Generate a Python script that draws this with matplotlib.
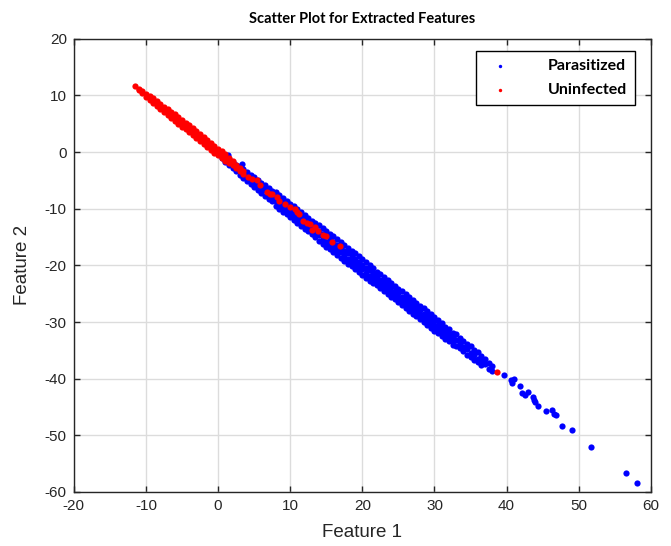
import matplotlib
matplotlib.use("Agg")
import matplotlib.pyplot as plt

plt.rcParams['axes.unicode_minus'] = False

# Uninfected (red): dense band, column by column (x, then y values at that x)
red_band_x = [-11.5, -11.0, -10.5, -10.0, -9.5, -9.0, -8.5, -8.0, -7.5, -7.0,
              -6.5, -6.0, -5.5, -5.0, -4.5, -4.0, -3.5, -3.0, -2.5, -2.0,
              -1.5, -1.0, -0.5, 0.0, 0.5, 1.0, 1.5, 2.0, 2.5, 3.0, 3.5]
red_band_y = [[11.7], [11.2, 10.9], [10.8, 10.4], [10.3, 9.8], [9.9, 9.5, 9.2],
              [9.5, 9.0, 8.6], [9.0, 8.5, 8.1], [8.5, 8.0, 7.6], [8.0, 7.6, 7.1],
              [7.6, 7.1, 6.6], [7.1, 6.6, 6.1], [6.7, 6.1, 5.5], [6.2, 5.6, 5.0],
              [5.7, 5.1, 4.5], [5.2, 4.7, 4.0], [4.7, 4.1, 3.5], [4.2, 3.6, 3.0],
              [3.7, 3.1, 2.4], [3.2, 2.6, 1.9], [2.7, 2.1, 1.4], [2.2, 1.6, 0.9],
              [1.6, 1.0, 0.4], [1.1, 0.5, -0.2], [0.6, 0.0, -0.6], [0.1, -0.5, -1.1],
              [-0.4, -1.0, -1.5], [-1.0, -1.6, -2.0], [-1.6, -2.2], [-2.3, -2.8],
              [-2.9, -3.3], [-3.4, -3.9]]
# Uninfected (red): scattered points inside the blue band
red_pts_x = [4.2, 4.7, 5.4, 5.8, 6.8, 7.2, 7.5, 8.2, 8.4, 9.3, 10.0, 10.7, 10.9,
             11.2, 11.8, 12.3, 12.8, 13.0, 13.5, 13.9, 14.6, 14.9, 15.8, 16.9, 38.7]
red_pts_y = [-4.4, -4.7, -5.0, -5.9, -7.1, -7.4, -7.4, -8.0, -8.6, -9.1, -9.7, -10.0, -10.6,
             -10.9, -12.1, -12.6, -12.7, -13.8, -13.3, -14.0, -14.7, -14.9, -15.9, -16.5, -38.8]

# Parasitized (blue): dense band, column by column
blue_band_x = [0.5, 1.0, 1.5, 2.0, 2.5, 3.0, 3.5, 4.0, 4.5, 5.0, 5.5, 6.0, 6.5, 7.0, 7.5,
               8.0, 8.5, 9.0, 9.5, 10.0, 10.5, 11.0, 11.5, 12.0, 12.5, 13.0, 13.5, 14.0,
               14.5, 15.0, 15.5, 16.0, 16.5, 17.0, 17.5, 18.0, 18.5, 19.0, 19.5, 20.0,
               20.5, 21.0, 21.5, 22.0, 22.5, 23.0, 23.5, 24.0, 24.5, 25.0, 25.5, 26.0,
               26.5, 27.0, 27.5, 28.0, 28.5, 29.0, 29.5, 30.0, 30.5, 31.0, 31.5, 32.0,
               32.5, 33.0, 33.5, 34.0, 34.5, 35.0, 35.5, 36.0, 36.5, 37.0, 37.5, 38.0]
blue_band_y = [
    [-0.4, -1.1], [-0.8, -1.3, -1.8], [-1.3, -1.9, -2.3], [-1.8, -2.4, -2.8],
    [-2.2, -2.9, -3.4], [-2.5, -3.3, -4.1], [-3.0, -3.7, -4.6], [-3.5, -4.4, -5.1],
    [-4.0, -4.8, -5.6], [-4.4, -5.2, -6.1], [-4.9, -5.9, -6.7], [-5.4, -6.3, -7.2],
    [-5.9, -6.7, -7.7], [-6.4, -7.4, -8.2], [-6.9, -7.8, -8.7],
    [-7.1, -7.9, -8.7, -9.5], [-7.6, -8.5, -9.2, -10.0], [-8.1, -8.9, -9.7, -10.5],
    [-8.6, -9.5, -10.2, -11.0], [-9.1, -9.9, -10.7, -11.5], [-9.6, -10.5, -11.2, -12.0],
    [-10.1, -10.9, -11.7, -12.5], [-10.6, -11.5, -12.2, -13.0], [-11.1, -11.9, -12.7, -13.5],
    [-11.6, -12.5, -13.2, -14.0], [-12.1, -12.9, -13.7, -14.5], [-12.6, -13.5, -14.2, -15.0],
    [-12.9, -13.9, -14.7, -15.7], [-13.4, -14.4, -15.3, -16.2], [-13.9, -14.9, -15.8, -16.7],
    [-14.4, -15.4, -16.2, -17.2], [-14.9, -15.9, -16.8, -17.7], [-15.4, -16.4, -17.3, -18.2],
    [-15.9, -16.9, -17.7, -18.7], [-16.4, -17.4, -18.3, -19.2], [-16.9, -17.9, -18.8, -19.7],
    [-17.4, -18.4, -19.2, -20.2], [-17.9, -18.9, -19.8, -20.7], [-18.4, -19.4, -20.3, -21.2],
    [-18.9, -19.9, -20.7, -21.7], [-19.4, -20.4, -21.3, -22.2], [-19.9, -20.9, -21.8, -22.7],
    [-20.4, -21.4, -22.2, -23.2], [-21.1, -21.9, -22.7, -23.5], [-21.6, -22.5, -23.2, -24.0],
    [-22.1, -22.9, -23.7, -24.5], [-22.6, -23.5, -24.2, -25.0], [-23.1, -23.9, -24.7, -25.5],
    [-23.6, -24.5, -25.2, -26.0], [-24.1, -24.9, -25.7, -26.5], [-24.6, -25.5, -26.2, -27.0],
    [-25.1, -25.9, -26.7, -27.5], [-25.6, -26.5, -27.2, -28.0], [-26.1, -26.9, -27.7, -28.5],
    [-26.6, -27.5, -28.2, -29.0], [-27.1, -27.9, -28.7, -29.5], [-27.6, -28.5, -29.2, -30.0],
    [-28.1, -28.9, -29.7, -30.5], [-28.6, -29.5, -30.2, -31.0], [-29.1, -29.9, -30.7, -31.5],
    [-29.6, -30.5, -31.2, -32.0], [-30.2, -31.0, -31.8, -32.5], [-30.8, -31.6, -32.3, -33.0],
    [-31.3, -32.1, -32.8, -33.4], [-31.9, -32.6, -33.4, -34.0], [-32.2, -33.1, -34.2],
    [-32.9, -33.7, -34.6], [-33.3, -34.4, -35.2], [-33.9, -34.7, -35.8], [-34.2, -35.4, -36.1],
    [-35.0, -35.9, -36.7], [-35.3, -36.5, -37.0], [-36.0, -36.9, -37.6], [-36.6, -37.5],
    [-37.2, -38.3], [-37.8, -38.6]]
# Parasitized (blue): outliers and the sparse tail
blue_pts_x = [1.4, 3.3, 39.6, 40.6, 40.8, 41.0, 41.9, 42.2, 42.6, 42.9, 43.6, 43.8, 44.0,
              44.3, 45.4, 46.3, 46.6, 46.9, 47.7, 49.1, 51.7, 56.5, 58.1]
blue_pts_y = [-0.6, -2.1, -39.4, -40.3, -40.8, -40.1, -41.3, -42.6, -42.9, -42.3, -43.2, -43.8,
              -44.1, -44.8, -45.7, -45.5, -46.3, -46.5, -48.3, -49.0, -52.1, -56.7, -58.5]


def expand(cols_x, cols_y, pts_x, pts_y):
    xs, ys = [], []
    for x, col in zip(cols_x, cols_y):
        for y in col:
            xs.append(x)
            ys.append(y)
    return xs + pts_x, ys + pts_y


bx, by = expand(blue_band_x, blue_band_y, blue_pts_x, blue_pts_y)
rx, ry = expand(red_band_x, red_band_y, red_pts_x, red_pts_y)

ink = '#262626'
fig = plt.figure(figsize=(6.71, 5.46), dpi=100)
ax = fig.add_axes([0.110, 0.099, 0.860, 0.830])

ax.scatter(bx, by, s=20, c='#0000ff', linewidths=0, label='Parasitized', zorder=3)
ax.scatter(rx, ry, s=20, c='#ff0000', linewidths=0, label='Uninfected', zorder=4)

ax.set_xlim(-20, 60)
ax.set_ylim(-60, 20)
ax.set_xticks(range(-20, 61, 10))
ax.set_yticks(range(-60, 21, 10))
ax.grid(True, color='#dcdcdc', linewidth=1)
ax.set_axisbelow(True)
ax.tick_params(direction='in', length=4, width=1, colors=ink, top=True, right=True,
               labelsize=11, labelcolor=ink, pad=5)
for lab in ax.get_xticklabels() + ax.get_yticklabels():
    lab.set_family('Liberation Sans')
for sp in ax.spines.values():
    sp.set_color(ink)
    sp.set_linewidth(1)

ax.set_xlabel('Feature 1', fontsize=13.5, color=ink, family='Liberation Sans', labelpad=8)
ax.set_ylabel('Feature 2', fontsize=13.5, color=ink, family='Liberation Sans', labelpad=10)
ax.set_title('Scatter Plot for Extracted Features', fontsize=10.5, fontweight='bold',
             family='Lato', pad=11)

leg = ax.legend(loc='upper right', bbox_to_anchor=(0.972, 0.9735), borderaxespad=0,
                fancybox=False, framealpha=1, edgecolor='black', markerscale=0.55,
                prop={'family': 'Lato', 'weight': 'bold', 'size': 11.5},
                handletextpad=2.0, labelspacing=0.6, borderpad=0.5)
leg.get_frame().set_linewidth(1)

fig.savefig('out.png', dpi=100)
